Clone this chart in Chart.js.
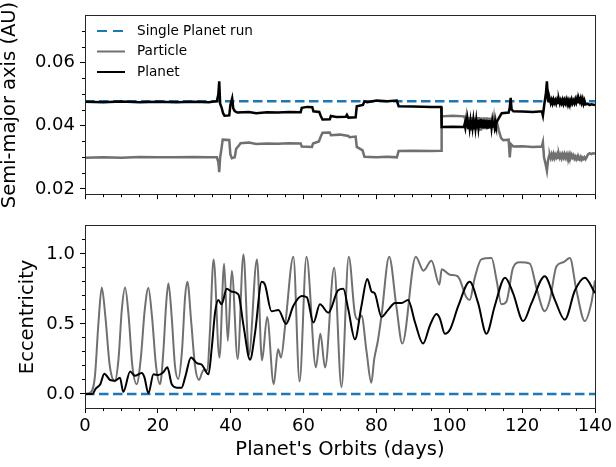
<!DOCTYPE html>
<html>
<head>
<meta charset="utf-8">
<script src="https://cdn.jsdelivr.net/npm/chart.js@4.4.0/dist/chart.umd.min.js"></script>
<style>
html,body{margin:0;padding:0;background:#fff;}
#wrap{position:relative;width:616px;height:467px;overflow:hidden;}
#topChart{position:absolute;left:0;top:0;}
#botChart{position:absolute;left:0;top:210px;}
</style>
</head>
<body>
<div id="wrap">
<canvas id="topChart" width="616" height="210"></canvas>
<canvas id="botChart" width="616" height="257"></canvas>
</div>
<script>
// ---------- DATA ----------
const xMajorTicks = [0, 20, 40, 60, 80, 100, 120, 140];
const xMinorTicks = [5, 10, 15, 25, 30, 35, 45, 50, 55, 65, 70, 75, 85, 90, 95, 105, 110, 115, 125, 130, 135];
const axisTicks = [0.02, 0.04, 0.06];
const axisMinorTicks = [0.025, 0.03, 0.035, 0.045, 0.05, 0.055, 0.065, 0.07];
const eccTicks = [0, 0.5, 1.0];
const eccMinorTicks = [0.1, 0.2, 0.3, 0.4, 0.6, 0.7, 0.8, 0.9, 1.1];

// single planet run (reference)
const singleOrbits = [0, 140];
const singleAxis = [0.0478, 0.0478];
const singleEcc = [0, 0];

// planet semi-major axis, read in pieces (the two noisy stretches have their own lists)
const planetAxisOrbits1 = [
  0, 5, 10, 15, 20, 25, 30, 34, 36.2, 36.6,
  36.85, 37.1, 37.5, 37.9, 38.3, 39.6, 39.9, 40.4, 40.7, 41.1,
  41.8, 45, 47, 50, 53, 56, 59.2, 59.5, 61, 62.4,
  62.7, 64.3, 64.7, 65.2, 67.2, 67.5, 69, 71.6, 71.9, 72.3,
  74.3, 74.6, 76.3, 76.7, 77.5, 80, 83, 85.6, 86.1, 90,
  95, 97.8, 97.9, 101, 104
];
const planetAxis1 = [
  0.0476, 0.0475, 0.0477, 0.0475, 0.0476, 0.0475, 0.0476, 0.0475, 0.0478, 0.0500,
  0.0541, 0.0470, 0.0458, 0.0440, 0.0432, 0.0433, 0.0465, 0.0487, 0.0455, 0.0447,
  0.0442, 0.0444, 0.0440, 0.0443, 0.0442, 0.0444, 0.0443, 0.0457, 0.0460, 0.0459,
  0.0446, 0.0444, 0.0432, 0.0420, 0.0421, 0.0431, 0.0428, 0.0429, 0.0435, 0.0426,
  0.0427, 0.0462, 0.0466, 0.0478, 0.0475, 0.0480, 0.0478, 0.0480, 0.0462, 0.0461,
  0.0460, 0.0460, 0.0396, 0.0397, 0.0396
];
const planetAxisOrbits2 = [
  104.2, 104.4, 104.6, 104.8, 105.0, 105.2, 105.4, 105.6, 105.8,
  106.0, 106.2, 106.4, 106.6, 106.8, 107.0, 107.2, 107.4, 107.6,
  107.8, 108.0, 108.2, 108.4, 108.6, 108.8, 109.0, 109.2, 109.4,
  109.6, 109.8, 110.0, 110.2, 110.4, 110.6, 110.8, 111.0, 111.2,
  111.4, 111.6, 111.8, 112.0, 112.2, 112.4, 112.6, 112.8, 113.0
];
const planetAxis2 = [
  0.0405, 0.0394, 0.0412, 0.0396, 0.0416, 0.0393, 0.0418, 0.0395, 0.0414,
  0.0392, 0.0419, 0.0397, 0.0417, 0.0393, 0.0420, 0.0395, 0.0416, 0.0392,
  0.0419, 0.0396, 0.0418, 0.0393, 0.0421, 0.0395, 0.0417, 0.0392, 0.0420,
  0.0396, 0.0418, 0.0394, 0.0419, 0.0395, 0.0416, 0.0393, 0.0418, 0.0396,
  0.0417, 0.0395, 0.0415, 0.0398, 0.0416, 0.0400, 0.0414, 0.0403, 0.0412
];
const planetAxisOrbits3 = [113.8, 114.4, 116.3, 116.6, 116.85, 117.1, 117.6, 120, 123, 125.4, 125.7, 126.1, 126.5, 126.8, 127.1, 127.4];
const planetAxis3 = [0.0428, 0.0440, 0.0442, 0.0458, 0.0489, 0.0452, 0.0446, 0.0445, 0.0444, 0.0446, 0.0432, 0.0470, 0.0500, 0.0541, 0.0480, 0.0478];
const lateOrbits = [
  127.6, 127.85, 128.1, 128.35, 128.6, 128.85, 129.1, 129.35, 129.6, 129.85,
  130.1, 130.35, 130.6, 130.85, 131.1, 131.35, 131.6, 131.85, 132.1, 132.35,
  132.6, 132.85, 133.1, 133.35, 133.6, 133.85, 134.1, 134.35, 134.6, 134.85,
  135.1, 135.35, 135.6, 135.85, 136.1, 136.35, 136.6, 136.85, 137.1, 137.4
];
const planetAxis4 = [
  0.0484, 0.0472, 0.0482, 0.0471, 0.0483, 0.0473, 0.0481, 0.0471, 0.0482, 0.0472,
  0.0483, 0.0471, 0.0481, 0.0472, 0.0482, 0.0470, 0.0481, 0.0472, 0.0483, 0.0471,
  0.0482, 0.0473, 0.0481, 0.0471, 0.0483, 0.0472, 0.0480, 0.0472, 0.0484, 0.0474,
  0.0486, 0.0475, 0.0485, 0.0476, 0.0487, 0.0474, 0.0485, 0.0470, 0.0480, 0.0468
];
const planetAxisOrbits5 = [138, 138.5, 139, 140];
const planetAxis5 = [0.0470, 0.0466, 0.0468, 0.0466];

// particle semi-major axis
const particleAxisOrbits1 = [
  0, 5, 10, 15, 20, 25, 30, 34, 36.2, 36.6,
  36.85, 37.1, 37.5, 37.8, 39.6, 39.9, 40.3, 41.1, 41.5, 42.3,
  42.7, 45, 47, 50, 53, 56, 59.2, 59.5, 62.3, 62.6,
  64.2, 64.7, 65.2, 67.2, 67.5, 70, 72.3, 72.6, 74.3, 74.6,
  76.2, 76.7, 80, 83, 85.6, 86.1, 90, 95, 97.8, 97.9,
  101, 104
];
const particleAxis1 = [
  0.0299, 0.0300, 0.0299, 0.0301, 0.0300, 0.0300, 0.0301, 0.0300, 0.0300, 0.0285,
  0.0253, 0.0300, 0.0330, 0.0356, 0.0355, 0.0310, 0.0297, 0.0300, 0.0327, 0.0338,
  0.0345, 0.0347, 0.0342, 0.0344, 0.0343, 0.0345, 0.0344, 0.0334, 0.0333, 0.0344,
  0.0350, 0.0365, 0.0378, 0.0379, 0.0370, 0.0372, 0.0368, 0.0364, 0.0366, 0.0333,
  0.0322, 0.0302, 0.0300, 0.0302, 0.0300, 0.0320, 0.0321, 0.0320, 0.0321, 0.0430,
  0.0432, 0.0430
];
const particleAxisOrbits2 = [
  104.3, 104.5, 104.7, 104.9, 105.1, 105.3, 105.5, 105.7, 105.9,
  106.1, 106.3, 106.5, 106.7, 106.9, 107.1, 107.3, 107.5, 107.7,
  107.9, 108.1, 108.3, 108.5, 108.7, 108.9, 109.1, 109.3, 109.5,
  109.7, 109.9, 110.1, 110.3, 110.5, 110.7, 110.9, 111.1, 111.3,
  111.5, 111.7, 111.9, 112.1, 112.3, 112.5, 112.7, 112.9, 113.1
];
const particleAxis2 = [
  0.0424, 0.0410, 0.0427, 0.0400, 0.0428, 0.0392, 0.0426, 0.0388, 0.0427,
  0.0390, 0.0428, 0.0387, 0.0425, 0.0391, 0.0427, 0.0386, 0.0426, 0.0389,
  0.0428, 0.0392, 0.0426, 0.0388, 0.0427, 0.0390, 0.0425, 0.0393, 0.0427,
  0.0389, 0.0426, 0.0392, 0.0427, 0.0394, 0.0425, 0.0391, 0.0426, 0.0395,
  0.0424, 0.0396, 0.0423, 0.0398, 0.0422, 0.0400, 0.0418, 0.0405, 0.0410
];
const particleAxisOrbits3 = [113.6, 114.2, 114.8, 116.3, 116.6, 116.9, 117.6, 120, 123, 125.4, 125.7, 126, 126.5, 126.8, 127.1, 127.4];
const particleAxis3 = [0.0385, 0.0362, 0.0354, 0.0356, 0.0300, 0.0342, 0.0334, 0.0335, 0.0333, 0.0334, 0.0348, 0.0300, 0.0275, 0.0257, 0.0290, 0.0305];
const particleAxis4 = [
  0.0308, 0.0298, 0.0309, 0.0299, 0.0310, 0.0298, 0.0308, 0.0300, 0.0309, 0.0298,
  0.0310, 0.0299, 0.0308, 0.0298, 0.0309, 0.0300, 0.0310, 0.0299, 0.0308, 0.0298,
  0.0309, 0.0300, 0.0310, 0.0299, 0.0308, 0.0300, 0.0306, 0.0296, 0.0302, 0.0294,
  0.0301, 0.0293, 0.0300, 0.0294, 0.0301, 0.0293, 0.0299, 0.0295, 0.0300, 0.0294
];
const particleAxisOrbits5 = [137.7, 138, 138.5, 139, 139.5, 140];
const particleAxis5 = [0.0300, 0.0308, 0.0313, 0.0310, 0.0313, 0.0312];

// planet eccentricity
const planetEccOrbits = [
  0, 2, 3, 4.2, 5.3, 6.9, 8.2, 9.6, 10.5, 12.4,
  13.7, 15.6, 16.3, 17.4, 18.8, 20.1, 21.5, 22.6, 23.8, 25.2,
  26.5, 27.5, 29.1, 30.7, 32, 33.9, 34.8, 35.7, 36.6, 37.5,
  38.9, 40.3, 42.1, 43.5, 45.3, 46.7, 48.5, 49.4, 51.2, 53.1,
  55.2, 57.2, 59.5, 60.9, 62.7, 64.5, 66.8, 69.5, 70.9, 72.3,
  74.1, 75.9, 77.5, 78.7, 79.5, 81.4, 83.2, 85.1, 86.9, 88.7,
  90.6, 92.8, 94.7, 96.5, 97.4, 98.8, 100.2, 102.5, 105.6, 107.9,
  110.2, 112.5, 115.3, 117.5, 120.3, 122.6, 126.2, 129, 131.7, 134.5,
  137.2, 140
];
const planetEcc = [
  0, 0, 0.04, 0.07, 0.145, 0.10, 0.095, 0.115, 0.015, 0.16,
  0.13, 0.15, 0.12, 0.005, 0.14, 0.135, 0.155, 0.19, 0.07, 0.045,
  0.045, 0.12, 0.26, 0.22, 0.21, 0.14, 0.33, 0.58, 0.67, 0.64,
  0.75, 0.73, 0.71, 0.49, 0.245, 0.44, 0.80, 0.78, 0.59, 0.60,
  0.50, 0.63, 0.70, 0.69, 0.51, 0.64, 0.58, 0.74, 0.75, 0.60,
  0.39, 0.63, 0.82, 0.73, 0.72, 0.55, 0.60, 0.65, 0.65, 0.67,
  0.51, 0.36, 0.49, 0.57, 0.54, 0.43, 0.46, 0.63, 0.80, 0.65,
  0.43, 0.63, 0.83, 0.72, 0.52, 0.65, 0.84, 0.67, 0.53, 0.74,
  0.83, 0.72
];

// particle eccentricity
const particleEccOrbits = [
  0, 1.5, 2.7, 3.7, 4.6, 5.6, 6.8, 8.2, 9.2, 10.1,
  11.0, 12.0, 13.0, 14.2, 15.3, 16.4, 17.4, 18.4, 19.5, 20.6,
  21.5, 22.3, 22.9, 23.8, 24.7, 25.6, 26.6, 27.5, 28.1, 29.2,
  30.2, 31.3, 32.5, 33.6, 34.3, 35.3, 36.9, 38.2, 39.2, 40.3,
  41.9, 43.5, 45.0, 47.2, 48.6, 50.0, 51.8, 53.0, 53.8, 55.0,
  57.2, 58.9, 60.8, 63.4, 64.6, 65.9, 68.4, 70.4, 72.4, 74.1,
  75.0, 75.9, 77.3, 78.6, 79.4, 80.4, 81.4, 83.5, 85.5, 87.1,
  90.8, 92.9, 95.1, 97.3, 97.9, 100.2, 102.3, 104.7, 105.6, 107.0,
  108.8, 111.6, 113.0, 114.3, 115.7, 117.5, 119.4, 122.1, 124.0, 126.2,
  127.6, 129.4, 131.3, 133.1, 134.9, 137.2, 139.0, 140
];
const particleEcc = [
  0, 0.01, 0.12, 0.51, 0.76, 0.55, 0.2, 0.09, 0.25, 0.6,
  0.76, 0.55, 0.2, 0.07, 0.25, 0.6, 0.757, 0.55, 0.2, 0.07,
  0.3, 0.65, 0.79, 0.55, 0.2, 0.107, 0.3, 0.7, 0.80, 0.5,
  0.2, 0.10, 0.17, 0.17, 0.45, 0.96, 0.26, 0.93, 0.38, 0.88,
  0.25, 0.995, 0.28, 0.96, 0.24, 0.55, 0.07, 0.32, 0.26, 0.5,
  0.98, 0.09, 0.98, 0.19, 0.43, 0.19, 0.90, 0.05, 0.98, 0.57,
  0.53, 0.56, 0.30, 0.08, 0.25, 0.38, 0.56, 0.98, 0.62, 0.36,
  0.98, 0.88, 0.95, 0.78, 0.89, 0.85, 0.84, 0.69, 0.67, 0.83,
  0.96, 0.97, 0.81, 0.64, 0.66, 0.90, 0.94, 0.93, 0.75, 0.59,
  0.67, 0.91, 0.94, 0.97, 0.74, 0.52, 0.65, 0.81
];

// ---------- STYLE ----------
const FONT = "'DejaVu Sans', sans-serif";
const INK = '#000';
const SPINE = '#262626';
const BLUE = '#1f77b4';
const GRAY = '#707070';

const pts = (xs, ys) => xs.map((x, i) => ({x: x, y: ys[i]}));
const snap = p => Math.round(p - 0.5) + 0.5;

const planetAxisData = [].concat(
  pts(planetAxisOrbits1, planetAxis1), pts(planetAxisOrbits2, planetAxis2),
  pts(planetAxisOrbits3, planetAxis3), pts(lateOrbits, planetAxis4),
  pts(planetAxisOrbits5, planetAxis5));
const particleAxisData = [].concat(
  pts(particleAxisOrbits1, particleAxis1), pts(particleAxisOrbits2, particleAxis2),
  pts(particleAxisOrbits3, particleAxis3), pts(lateOrbits, particleAxis4),
  pts(particleAxisOrbits5, particleAxis5));

// ---------- PLUGINS ----------
const minorTicks = {
  id: 'minorTicks',
  afterDraw(chart, args, opts){
    const {ctx, chartArea: a, scales} = chart;
    ctx.save();
    ctx.strokeStyle = INK; ctx.lineWidth = 1;
    ctx.beginPath();
    (opts.x || []).forEach(v => { const p = snap(scales.x.getPixelForValue(v)); ctx.moveTo(p, a.bottom); ctx.lineTo(p, a.bottom + opts.len); });
    (opts.y || []).forEach(v => { const p = snap(scales.y.getPixelForValue(v)); ctx.moveTo(a.left, p); ctx.lineTo(a.left - opts.len, p); });
    ctx.stroke();
    ctx.restore();
  }
};

const frame = {
  id: 'frame',
  afterDatasetsDraw(chart){
    const {ctx, chartArea: a} = chart;
    ctx.save();
    ctx.strokeStyle = SPINE; ctx.lineWidth = 1;
    const l = snap(a.left), r = snap(a.right), t = snap(a.top), b = snap(a.bottom);
    ctx.strokeRect(l, t, r - l, b - t);
    ctx.restore();
  }
};

const insideLegend = {
  id: 'insideLegend',
  afterDatasetsDraw(chart, args, opts){
    if(!opts.show) return;
    const ctx = chart.ctx;
    ctx.save();
    ctx.font = opts.size + 'px ' + FONT;
    ctx.textBaseline = 'middle';
    ctx.fillStyle = INK;
    chart.data.datasets.forEach((ds, i) => {
      const y = opts.y0 + i * opts.gap;
      ctx.strokeStyle = ds.borderColor;
      ctx.lineWidth = 2;
      ctx.setLineDash(ds.borderDash ? [10, 6] : []);
      ctx.beginPath(); ctx.moveTo(opts.x0, y); ctx.lineTo(opts.x0 + opts.len, y); ctx.stroke();
      ctx.setLineDash([]);
      ctx.fillText(ds.label, opts.x0 + opts.len + opts.pad, y);
    });
    ctx.restore();
  }
};

// ---------- SCALES ----------
function xScale(showLabels, height){
  return {
    type: 'linear', min: 0, max: 140,
    afterBuildTicks: s => { s.ticks = xMajorTicks.map(v => ({value: v})); },
    afterFit: s => { s.height = height; },
    grid: {drawOnChartArea: false, drawTicks: true, tickLength: 5, tickColor: INK, tickWidth: 1},
    border: {display: false},
    ticks: {display: showLabels, autoSkip: false, maxRotation: 0, padding: 3, color: INK,
      font: {family: FONT, size: 18}, callback: v => String(v)},
    title: {display: showLabels, text: "Planet's Orbits (days)", color: INK,
      font: {family: FONT, size: 19.5, lineHeight: 1.0}, padding: {top: 0, bottom: 7.5}}
  };
}

function yScale(min, max, ticks, digits, title, titlePad){
  return {
    type: 'linear', min: min, max: max,
    afterBuildTicks: s => { s.ticks = ticks.map(v => ({value: v})); },
    afterFit: s => { s.width = 85; },
    grid: {drawOnChartArea: false, drawTicks: true, tickLength: 5, tickColor: INK, tickWidth: 1},
    border: {display: false},
    ticks: {padding: 5, color: INK, font: {family: FONT, size: 18}, callback: v => v.toFixed(digits)},
    title: {display: true, text: title, color: INK,
      font: {family: FONT, size: 19.5, lineHeight: 1.0}, padding: {top: titlePad, bottom: 0}}
  };
}

const lineDefaults = {pointRadius: 0, fill: false};

// ---------- TOP PANEL: SEMI-MAJOR AXIS ----------
new Chart(document.getElementById('topChart'), {
  type: 'line',
  data: {
    datasets: [
      Object.assign({label: 'Single Planet run', data: pts(singleOrbits, singleAxis),
        borderColor: BLUE, borderWidth: 2.5, borderDash: [9.5, 4.5], order: 3}, lineDefaults),
      Object.assign({label: 'Particle', data: particleAxisData,
        borderColor: GRAY, borderWidth: 2.5, order: 2}, lineDefaults),
      Object.assign({label: 'Planet', data: planetAxisData,
        borderColor: INK, borderWidth: 2.5, order: 1}, lineDefaults)
    ]
  },
  options: {
    responsive: false, animation: false,
    layout: {padding: {left: 0, right: 21, top: 13, bottom: 0}},
    scales: {
      x: xScale(false, 10),
      y: yScale(0.0183, 0.0749, axisTicks, 2, 'Semi-major axis (AU)', 0)
    },
    plugins: {
      legend: {display: false}, tooltip: {enabled: false},
      minorTicks: {x: xMinorTicks, y: axisMinorTicks, len: 3},
      insideLegend: {show: true, x0: 97, y0: 31, gap: 20.5, len: 28, pad: 12, size: 13.6}
    }
  },
  plugins: [minorTicks, frame, insideLegend]
});

// ---------- BOTTOM PANEL: ECCENTRICITY ----------
new Chart(document.getElementById('botChart'), {
  type: 'line',
  data: {
    datasets: [
      Object.assign({label: 'Single Planet run', data: pts(singleOrbits, singleEcc),
        borderColor: BLUE, borderWidth: 2.5, borderDash: [9.5, 4.5], order: 3}, lineDefaults),
      Object.assign({label: 'Particle', data: pts(particleEccOrbits, particleEcc),
        borderColor: GRAY, borderWidth: 2, cubicInterpolationMode: 'monotone', order: 2}, lineDefaults),
      Object.assign({label: 'Planet', data: pts(planetEccOrbits, planetEcc),
        borderColor: INK, borderWidth: 2, cubicInterpolationMode: 'monotone', order: 1}, lineDefaults)
    ]
  },
  options: {
    responsive: false, animation: false,
    layout: {padding: {left: 0, right: 21, top: 11, bottom: 0}},
    scales: {
      x: xScale(true, 59),
      y: yScale(-0.1, 1.2, eccTicks, 1, 'Eccentricity', 18)
    },
    plugins: {
      legend: {display: false}, tooltip: {enabled: false},
      minorTicks: {x: xMinorTicks, y: eccMinorTicks, len: 3},
      insideLegend: {show: false}
    }
  },
  plugins: [minorTicks, frame, insideLegend]
});
</script>
</body>
</html>
